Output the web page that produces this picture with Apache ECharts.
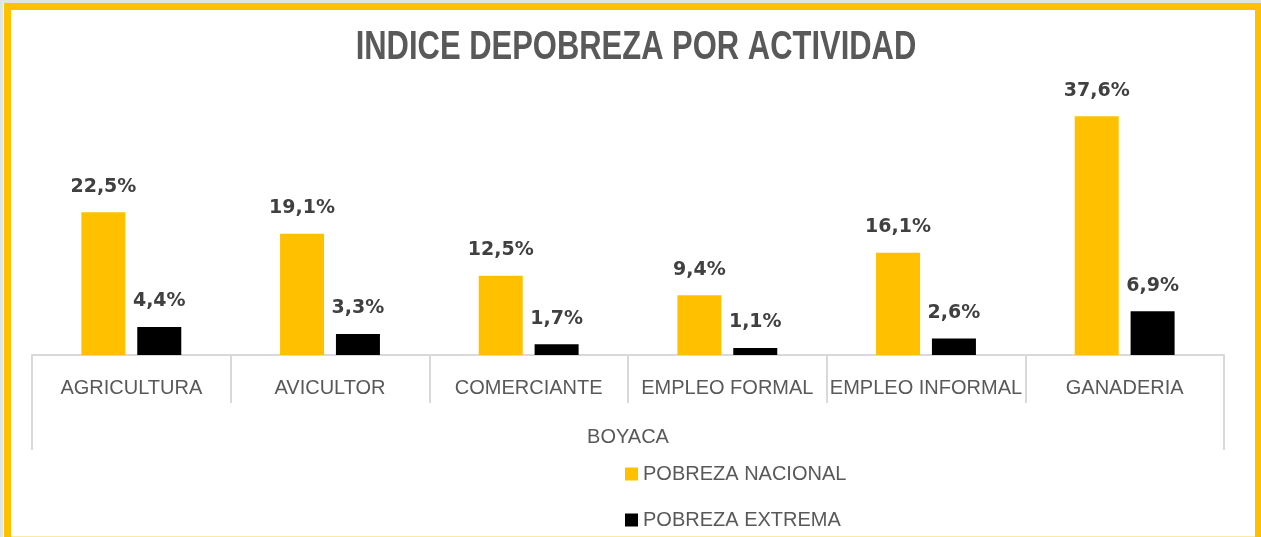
<!DOCTYPE html>
<html>
<head>
<meta charset="utf-8">
<title>Indice de pobreza por actividad</title>
<script src="https://cdn.jsdelivr.net/npm/echarts@6/dist/echarts.min.js"></script>
<style>
  html, body { margin: 0; padding: 0; background: #fff; }
  #chart { width: 1261px; height: 537px; }
</style>
</head>
<body>
<div id="chart"></div>
<script>
  const titleText = 'INDICE DEPOBREZA POR ACTIVIDAD'
  const categories = ['AGRICULTURA', 'AVICULTOR', 'COMERCIANTE', 'EMPLEO FORMAL', 'EMPLEO INFORMAL', 'GANADERIA']
  const groupLabels = ['BOYACA']
  const pobrezaNacional = [22.5, 19.1, 12.5, 9.4, 16.1, 37.6]
  const pobrezaExtrema = [4.4, 3.3, 1.7, 1.1, 2.6, 6.9]

  const textGrey = '#595959'
  const axisGrey = '#d9d9d9'

  function pct(p) {
    return p.value.toFixed(1).replace('.', ',') + '%'
  }

  const chart = echarts.init(document.getElementById('chart'))

  const labelStyle = {
    show: true,
    position: 'top',
    distance: 16,
    formatter: pct,
    fontFamily: 'DejaVu Sans',
    fontWeight: 'bold',
    fontSize: 19,
    color: '#404040'
  }

  const option = {
    animation: false,
    graphic: [
      // frame around the chart
      {
        type: 'rect',
        silent: true,
        shape: {x: 1.5, y: 1.5, width: 1280, height: 600},
        style: {fill: null, stroke: '#e3e3e3', lineWidth: 3}
      },
      {
        type: 'rect',
        silent: true,
        shape: {x: 7.5, y: 6.5, width: 1251, height: 560},
        style: {fill: null, stroke: '#FFC000', lineWidth: 7}
      },
      {
        type: 'line',
        silent: true,
        shape: {x1: 11, y1: 536.5, x2: 1255, y2: 536.5},
        style: {stroke: '#fde9a6', lineWidth: 1}
      },
      // condensed title (no narrow font installed, so squeeze a bold sans)
      {
        type: 'text',
        silent: true,
        x: 636,
        y: 48,
        scaleX: 0.755,
        style: {
          text: titleText,
          x: 0,
          y: 0,
          align: 'center',
          verticalAlign: 'middle',
          fontFamily: 'Liberation Sans',
          fontWeight: 'bold',
          fontSize: 41,
          fill: textGrey
        }
      }
    ],
    legend: {
      orient: 'vertical',
      left: 625,
      top: 464,
      height: 120,
      padding: 0,
      itemWidth: 13,
      itemHeight: 13,
      itemGap: 26,
      icon: 'rect',
      textStyle: {
        fontFamily: 'Liberation Sans',
        fontSize: 20,
        lineHeight: 20,
        color: textGrey
      },
      data: ['POBREZA NACIONAL', 'POBREZA EXTREMA']
    },
    grid: {
      left: 32,
      right: 37,
      top: 101,
      bottom: 182
    },
    xAxis: [
      {
        type: 'category',
        data: categories,
        axisLine: {lineStyle: {color: axisGrey, width: 2}},
        axisTick: {show: true, length: 48, lineStyle: {color: axisGrey, width: 2}},
        axisLabel: {
          interval: 0,
          margin: 23,
          fontFamily: 'Liberation Sans',
          fontSize: 20,
          color: textGrey
        }
      },
      {
        // second level of the category axis
        type: 'category',
        position: 'bottom',
        offset: 48,
        data: groupLabels,
        axisLine: {show: false},
        axisTick: {show: true, length: 47, lineStyle: {color: axisGrey, width: 2}},
        axisLabel: {
          margin: 24,
          fontFamily: 'Liberation Sans',
          fontSize: 20,
          color: textGrey
        }
      }
    ],
    yAxis: {
      type: 'value',
      min: 0,
      max: 40,
      show: false
    },
    series: [
      {
        name: 'POBREZA NACIONAL',
        type: 'bar',
        xAxisIndex: 0,
        barWidth: 44,
        barGap: '27%',
        itemStyle: {color: '#FFC000'},
        label: labelStyle,
        data: pobrezaNacional
      },
      {
        name: 'POBREZA EXTREMA',
        type: 'bar',
        xAxisIndex: 0,
        barWidth: 44,
        barGap: '27%',
        itemStyle: {color: '#000000'},
        label: labelStyle,
        data: pobrezaExtrema
      }
    ]
  }

  chart.setOption(option)
</script>
</body>
</html>
